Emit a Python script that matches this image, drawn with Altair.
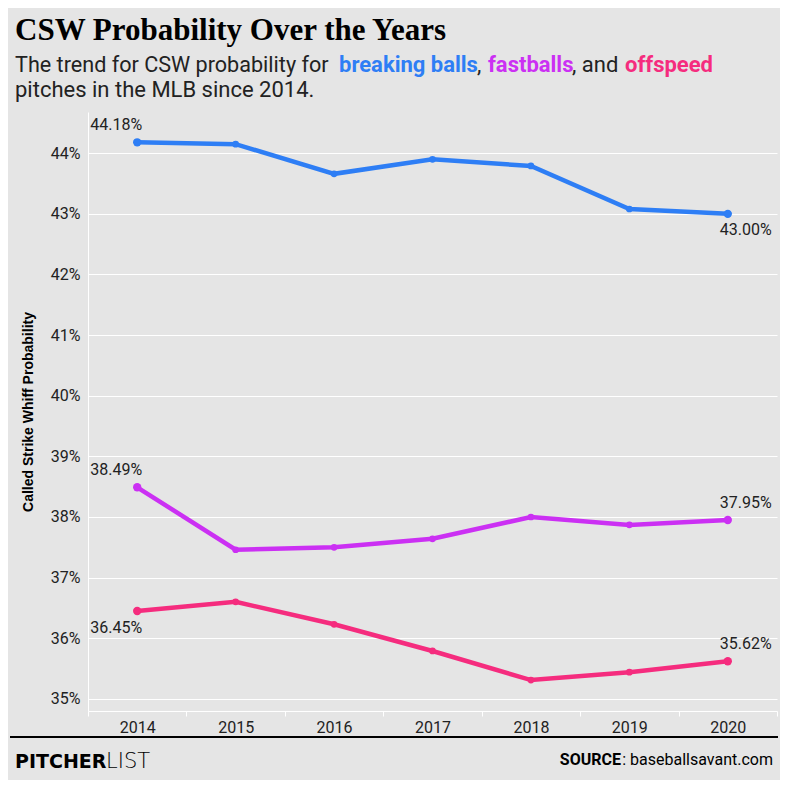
import altair as alt
import pandas as pd

# values (percent)
years = ["2014", "2015", "2016", "2017", "2018", "2019", "2020"]
breaking = [44.18, 44.15, 43.66, 43.90, 43.79, 43.08, 43.00]
fastball = [38.49, 37.46, 37.50, 37.64, 38.00, 37.87, 37.95]
offspeed = [36.45, 36.60, 36.23, 35.79, 35.31, 35.44, 35.62]

series_names = ["Breaking", "Fastball", "Offspeed"]
series_colors = ["#2e7ef5", "#cb30f3", "#f52c7e"]
y_ticks = [0.35, 0.36, 0.37, 0.38, 0.39, 0.40, 0.41, 0.42, 0.43, 0.44]

BG = "#e5e5e5"
INK = "#222222"
SANS = "Roboto"

rows = []
for name, vals in zip(series_names, [breaking, fastball, offspeed]):
    for i, (yr, v) in enumerate(zip(years, vals)):
        rows.append({"Year": yr, "Pitch": name, "CSW": v / 100, "idx": i})
df = pd.DataFrame(rows)

# end labels: which side of the point they sit on
labels = df[(df["idx"] == 0) | (df["idx"] == len(years) - 1)].copy()
labels["end"] = labels["idx"].map(lambda i: "left" if i == 0 else "right")
labels["below"] = ((labels["Pitch"] == "Offspeed") & (labels["end"] == "left")) | (
    (labels["Pitch"] == "Breaking") & (labels["end"] == "right")
)

x_enc = alt.X(
    "Year:O",
    bandPosition=0.5,
    scale=alt.Scale(type="band", paddingInner=0, paddingOuter=0),
    axis=alt.Axis(
        title=None,
        labelAngle=0,
        tickBand="extent",
        ticks=True,
        tickSize=5,
        tickColor="white",
        domainColor="white",
        labelFontSize=16,
        labelFont=SANS,
        labelColor=INK,
        labelPadding=3,
        grid=False,
    ),
)
y_enc = alt.Y(
    "CSW:Q",
    scale=alt.Scale(domain=[0.348, 0.4468], nice=False, zero=False),
    axis=alt.Axis(
        title="Called Strike Whiff Probability",
        titleFont="Liberation Sans",
        titleFontSize=14,
        titleFontWeight="bold",
        titleColor="black",
        titlePadding=15,
        values=y_ticks,
        format=".0%",
        ticks=False,
        domainColor="white",
        gridColor="white",
        gridWidth=1,
        labelFontSize=16,
        labelFont=SANS,
        labelColor=INK,
        labelPadding=8,
    ),
)
color_enc = alt.Color(
    "Pitch:N",
    scale=alt.Scale(domain=series_names, range=series_colors),
    legend=None,
)

base = alt.Chart(df)
lines = base.mark_line(strokeWidth=4.5).encode(x=x_enc, y=y_enc, color=color_enc)
dots = base.mark_circle(size=45, opacity=1).encode(x=x_enc, y=y_enc, color=color_enc)
end_dots = (
    alt.Chart(labels)
    .mark_circle(size=70, opacity=1)
    .encode(x=x_enc, y=y_enc, color=color_enc)
)


def end_label(end, below, dx, dy):
    part = labels[(labels["end"] == end) & (labels["below"] == below)]
    return (
        alt.Chart(part)
        .mark_text(font=SANS, fontSize=16, color=INK, dx=dx, dy=dy, baseline="middle")
        .encode(
            x=alt.X("Year:O", bandPosition=0.5),
            y="CSW:Q",
            text=alt.Text("CSW:Q", format=".2%"),
        )
    )


point_labels = (
    end_label("left", False, -21, -17)
    + end_label("left", True, -21, 17)
    + end_label("right", False, 18, -17)
    + end_label("right", True, 18, 16)
)


# header / footer text, positioned in pixels relative to the plot origin
def note(text, x, y, size, color=INK, weight="normal", font=SANS, align="left"):
    return (
        alt.Chart(pd.DataFrame({"k": [0]}))
        .mark_text(
            text=text,
            font=font,
            fontSize=size,
            fontWeight=weight,
            color=color,
            align=align,
            baseline="alphabetic",
        )
        .encode(x=alt.value(x), y=alt.value(y))
    )


header = (
    note("CSW Probability Over the Years", -73, -72, 31, "black", "bold", "Liberation Serif")
    + note("The trend for CSW probability for", -73, -40, 21.6)
    + note("breaking balls", 251, -40, 22, series_colors[0], "bold")
    + note(",", 389, -40, 22)
    + note("fastballs", 400, -40, 22, series_colors[1], "bold")
    + note(", and", 484, -40, 22)
    + note("offspeed", 537, -40, 22, series_colors[2], "bold")
    + note("pitches in the MLB since 2014.", -73, -15, 22)
)

footer_rule = (
    alt.Chart(pd.DataFrame({"k": [0]}))
    .mark_rule(color="black", strokeWidth=2)
    .encode(x=alt.value(-78), x2=alt.value(690), y=alt.value(625))
)
footer = (
    footer_rule
    + note("PITCHER", -73, 656, 19, "black", "bold", "DejaVu Sans")
    + note("LIST", 18, 656, 21, "black", 200, "DejaVu Sans")
    + note("SOURCE", 533, 653, 16, "black", "bold", SANS, "right")
    + note(": baseballsavant.com", 685, 653, 16, "black", "normal", SANS, "right")
)

chart = (
    alt.layer(lines, dots, end_dots, point_labels, header, footer)
    .properties(
        width=689,
        height=599,
        autosize=alt.AutoSizeParams(type="none"),
        padding={"left": 80, "top": 104, "right": 3, "bottom": 69},
        background=BG,
    )
    .configure_view(stroke=None, fill=BG)
)

chart.save("out.html", embed_options={"renderer": "svg", "actions": False})
